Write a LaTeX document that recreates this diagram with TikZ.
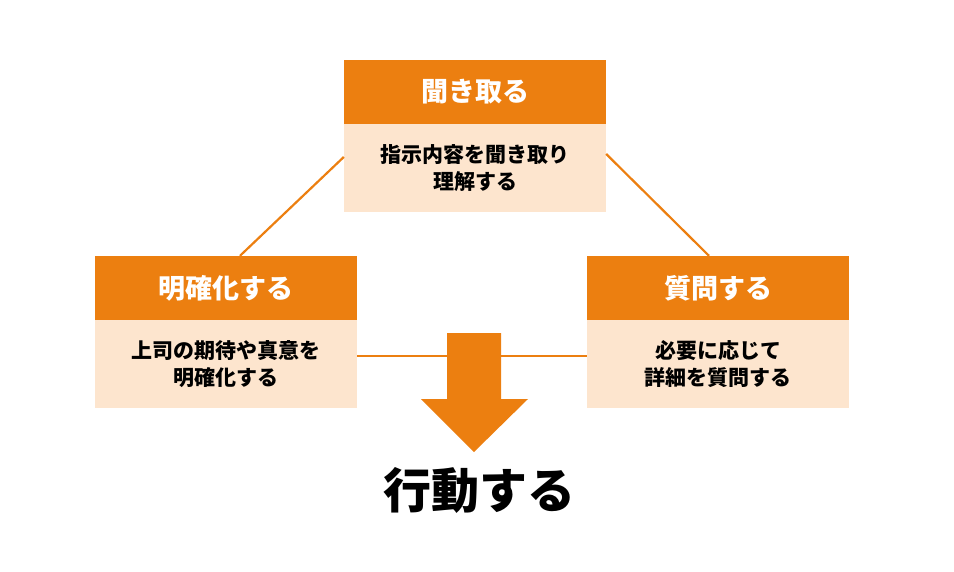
\documentclass[tikz,border=0pt]{standalone}
\usepackage{fontspec}
\newfontfamily\jp{Noto Sans CJK JP}
\definecolor{kopfcol}{HTML}{EC7F10}
\definecolor{rumpfcol}{HTML}{FDE5CE}
\begin{document}
\begin{tikzpicture}[x=1pt, y=-1pt, node distance={76pt}]
                \tikzstyle{kopf} = [fill=kopfcol, text=white, minimum width=262pt, minimum height=64pt, inner sep=0pt, font=\jp\bfseries\fontsize{27}{30}\selectfont]
                \tikzstyle{rumpf} = [fill=rumpfcol, minimum width=262pt, minimum height=88pt, inner sep=0pt, align=center, font=\jp\bfseries\fontsize{21}{27}\selectfont]
                \tikzstyle{linie} = [draw=kopfcol, line width=2.2pt]
                    \useasboundingbox (0,0) rectangle (954,571);
                    \node[kopf] (kiki) at (475,92) {聞き取る};
                    \node[rumpf] (kikiText) [below of=kiki] {指示内容を聞き取り\\理解する};
                    \node[kopf] (meikaku) at (226,288) {明確化する};
                    \node[rumpf] (meikakuText) [below of=meikaku] {上司の期待や真意を\\明確化する};
                    \node[kopf] (shitsumon) at (718,288) {質問する};
                    \node[rumpf] (shitsumonText) [below of=shitsumon] {必要に応じて\\詳細を質問する};
                    \node[font=\jp\bfseries\fontsize{48}{52}\selectfont] (koudou) at (479,490) {行動する};

                    \draw[linie] ([yshift=11pt]kikiText.west) to ([xshift=14pt]meikaku.north);
                    \draw[linie] ([yshift=14pt]kikiText.east) to ([xshift=-9pt]shitsumon.north);
                    \draw[linie] ([yshift=8pt]meikakuText.east) to ([yshift=8pt]shitsumonText.west);
                    \fill[kopfcol] (447,333) -- (501,333) -- (501,399) -- (528,399) -- (474,452) -- (421,399) -- (447,399) -- cycle;

                \end{tikzpicture}
\end{document}
